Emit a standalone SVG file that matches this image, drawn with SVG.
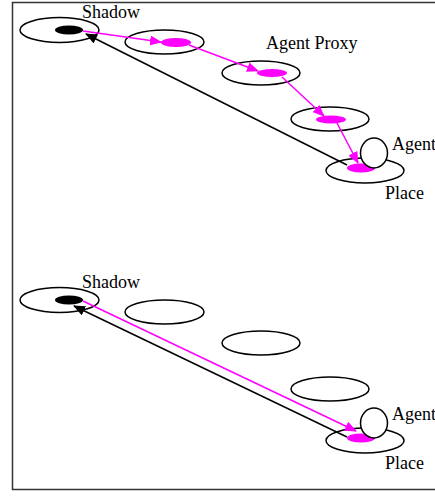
<svg xmlns="http://www.w3.org/2000/svg" width="435" height="499" viewBox="0 0 435 499">
<style>
.pl{fill:none;stroke:#000;stroke-width:1.5}
.ag{fill:#fff;stroke:#000;stroke-width:1.5}
.md{fill:#f0f}
.sd{fill:#000}
.ml{stroke:#f0f;stroke-width:1.5;fill:none}
.bl{stroke:#000;stroke-width:1.5;fill:none}
text{font-family:"Liberation Serif","Times New Roman",serif;font-size:18px;fill:#000}
</style>
<defs>
<marker id="am" markerWidth="12" markerHeight="10" refX="11" refY="5" orient="auto" markerUnits="userSpaceOnUse"><path d="M0,0 L12,5 L0,10 Z" fill="#f0f"/></marker>
<marker id="ab" markerWidth="12" markerHeight="10" refX="11" refY="5" orient="auto" markerUnits="userSpaceOnUse"><path d="M0,0 L12,5 L0,10 Z" fill="#000"/></marker>
</defs>
<path d="M440,2.5 H12.5 V489.5 H440" fill="none" stroke="#333" stroke-width="1.5"/>
<g id="top">
<g id="t-shadow"><ellipse class="pl" cx="59.5" cy="30" rx="39.5" ry="12.5"/><ellipse class="sd" cx="69" cy="30" rx="14" ry="4.5"/><text x="82" y="18">Shadow</text></g>
<g id="t-p2"><ellipse class="pl" cx="164.5" cy="42" rx="39.5" ry="12"/><ellipse class="md" cx="176" cy="42.5" rx="15" ry="4.5"/></g>
<g id="t-p3"><ellipse class="pl" cx="261" cy="73" rx="39" ry="12"/><ellipse class="md" cx="272" cy="73" rx="15" ry="4"/><text x="266" y="49">Agent Proxy</text></g>
<g id="t-p4"><ellipse class="pl" cx="330" cy="119" rx="39" ry="12"/><ellipse class="md" cx="331" cy="119.5" rx="15" ry="4"/></g>
<g id="t-place"><ellipse class="pl" cx="365" cy="170.5" rx="39" ry="12.5"/><ellipse class="md" cx="361" cy="168" rx="14" ry="4.5"/><text x="385" y="199">Place</text></g>
<g id="t-conn">
<line class="ml" x1="83" y1="31" x2="161" y2="42" marker-end="url(#am)"/>
<line class="ml" x1="189" y1="45" x2="258" y2="71" marker-end="url(#am)"/>
<line class="ml" x1="282" y1="77" x2="324" y2="116" marker-end="url(#am)"/>
<line class="ml" x1="337" y1="123" x2="358" y2="163" marker-end="url(#am)"/>
<line class="bl" x1="347" y1="165" x2="86" y2="34" marker-end="url(#ab)"/>
</g>
<g id="t-agent"><ellipse class="ag" cx="374" cy="153" rx="13.5" ry="15"/><text x="392" y="150">Agent</text></g>
</g>
<g id="bottom">
<g id="b-shadow"><ellipse class="pl" cx="59.5" cy="300" rx="39.5" ry="12.5"/><ellipse class="sd" cx="69" cy="300" rx="14" ry="4.5"/><text x="82" y="288">Shadow</text></g>
<g id="b-p2"><ellipse class="pl" cx="164.5" cy="312" rx="39.5" ry="12"/></g>
<g id="b-p3"><ellipse class="pl" cx="261" cy="343" rx="39" ry="12"/></g>
<g id="b-p4"><ellipse class="pl" cx="330" cy="389" rx="39" ry="12"/></g>
<g id="b-place"><ellipse class="pl" cx="365" cy="440.5" rx="39" ry="12.5"/><ellipse class="md" cx="361" cy="438" rx="14" ry="4.5"/><text x="385" y="469">Place</text></g>
<g id="b-conn">
<line class="ml" x1="83" y1="301" x2="356" y2="431" marker-end="url(#am)"/>
<line class="bl" x1="347" y1="437" x2="74" y2="306" marker-end="url(#ab)"/>
</g>
<g id="b-agent"><ellipse class="ag" cx="374" cy="423" rx="13.5" ry="15"/><text x="392" y="420">Agent</text></g>
</g>
</svg>
